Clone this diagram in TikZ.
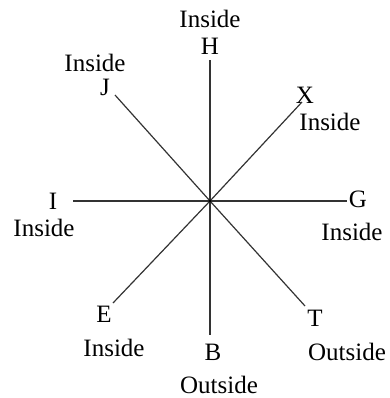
\documentclass[tikz,border=0pt]{standalone}
\usepackage{fontspec}
\setmainfont{Liberation Serif}
\begin{document}
\begin{tikzpicture}[x=0.5pt,y=-0.5pt,
  lbl/.style={inner sep=0pt,font=\fontsize{12.5pt}{14pt}\selectfont},
  ray/.style={draw=black!80,line width=0.6pt}]
\useasboundingbox (0,0) rectangle (390,398);
\coordinate (O) at (210,201);
% line ends
\coordinate (h) at (210,60);
\coordinate (j) at (115,95);
\coordinate (x) at (302,102);
\coordinate (i) at (73,201);
\coordinate (g) at (347,201);
\coordinate (e) at (113,303);
\coordinate (b) at (210,335);
\coordinate (t) at (305,306);
% letters
\node[lbl] (H) at (210,46) {H};
\node[lbl] (Hs) at (210,19) {Inside};
\node[lbl] (J) at (105,87) {J};
\node[lbl] (Js) at (95,63) {Inside};
\node[lbl] (X) at (305,95) {X};
\node[lbl] (Xs) at (330,122) {Inside};
\node[lbl] (I) at (53,201) {I};
\node[lbl] (Is) at (44,228) {Inside};
\node[lbl] (G) at (358,199) {G};
\node[lbl] (Gs) at (352,232) {Inside};
\node[lbl] (E) at (104,314) {E};
\node[lbl] (Es) at (114,348) {Inside};
\node[lbl] (B) at (213,352) {B};
\node[lbl] (Bs) at (219,385) {Outside};
\node[lbl] (T) at (315,318) {T};
\node[lbl] (Ts) at (347,352) {Outside};
% rays
\foreach \p in {h,j,x,i,g,e,b,t} \draw[ray] (O) -- (\p);
\fill[black] (O) circle (1.6);
\end{tikzpicture}
\end{document}
